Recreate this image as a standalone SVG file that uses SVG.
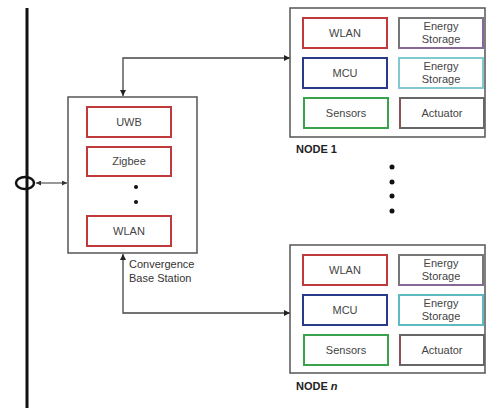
<svg xmlns="http://www.w3.org/2000/svg" width="487" height="411" viewBox="0 0 487 411">
<defs>
<marker id="ah" viewBox="0 0 10 10" refX="10" refY="5" markerWidth="6" markerHeight="6" orient="auto-start-reverse" markerUnits="userSpaceOnUse">
<path d="M0,0 L10,5 L0,10 z" fill="#222"/>
</marker>
<marker id="ahs" viewBox="0 0 10 10" refX="10" refY="5" markerWidth="5" markerHeight="5" orient="auto-start-reverse" markerUnits="userSpaceOnUse">
<path d="M0,0 L10,5 L0,10 z" fill="#333"/>
</marker>
</defs>
<style>
.outer{fill:#fff;stroke:#555;stroke-width:1.5}
.in{fill:#fff;stroke-width:2}
.t{font-family:"Liberation Sans",Arial,sans-serif;font-size:11px;fill:#444;text-anchor:middle}
.lbl{font-family:"Liberation Sans",Arial,sans-serif;font-size:11px;fill:#333}
.nl{font-family:"Liberation Sans",Arial,sans-serif;font-size:11px;font-weight:bold;fill:#222}
.red{stroke:#c0393b}
.blue{stroke:#2a3a8a}
.green{stroke:#3aa24a}
.grey{stroke:#666}
.con{fill:none;stroke:#444;stroke-width:1.3}
.dot{fill:#111}
</style>
<rect width="487" height="411" fill="#fff"/>
<g id="bus">
<line x1="27" y1="8" x2="27" y2="408" stroke="#111" stroke-width="3"/>
<ellipse cx="25" cy="183" rx="9" ry="6" fill="none" stroke="#111" stroke-width="2.5"/>
</g>
<g id="connectors">
<line x1="36" y1="183" x2="67" y2="183" stroke="#333" stroke-width="1" marker-start="url(#ahs)" marker-end="url(#ahs)"/>
<polyline class="con" points="290,58 123,58 123,96" marker-start="url(#ah)" marker-end="url(#ah)"/>
<polyline class="con" points="290,313 123,313 123,254" marker-start="url(#ah)" marker-end="url(#ah)"/>
</g>
<g id="base-station">
<rect class="outer" x="68" y="97" width="129" height="156"/>
<rect class="in red" x="87" y="107" width="84" height="30"/>
<text class="t" x="129" y="126">UWB</text>
<rect class="in red" x="87" y="147" width="84" height="29"/>
<text class="t" x="129" y="165">Zigbee</text>
<circle class="dot" cx="136" cy="187" r="2"/>
<circle class="dot" cx="136" cy="202" r="2"/>
<rect class="in red" x="87" y="216" width="84" height="30"/>
<text class="t" x="129" y="235">WLAN</text>
<text class="lbl" x="129" y="268">Convergence</text>
<text class="lbl" x="129" y="282">Base Station</text>
</g>
<g id="node1">
<rect class="outer" x="290" y="8" width="195" height="129"/>
<rect class="in red" x="303" y="18" width="84" height="30"/>
<text class="t" x="345" y="37">WLAN</text>
<rect class="in grey" x="399" y="18" width="84" height="30" style="stroke:#777"/>
<path d="M483,18 V48 H399" fill="none" stroke="#9a5ab8" stroke-width="1"/>
<text class="t" x="441" y="30">Energy</text>
<text class="t" x="441" y="43">Storage</text>
<rect class="in blue" x="303" y="58" width="84" height="30"/>
<text class="t" x="345" y="77">MCU</text>
<rect class="in" x="399" y="58" width="84" height="30" style="stroke:#7fc9cf"/>
<text class="t" x="441" y="70">Energy</text>
<text class="t" x="441" y="83">Storage</text>
<rect class="in green" x="304" y="98" width="84" height="30"/>
<text class="t" x="346" y="117">Sensors</text>
<rect class="in grey" x="400" y="98" width="84" height="30"/>
<line x1="400" y1="99" x2="400" y2="127" stroke="#b04040" stroke-width="1"/>
<text class="t" x="442" y="117">Actuator</text>
<text class="nl" x="296" y="153">NODE 1</text>
</g>
<g id="ellipsis">
<circle class="dot" cx="392" cy="167" r="2.5"/>
<circle class="dot" cx="392" cy="182" r="2.5"/>
<circle class="dot" cx="392" cy="196" r="2.5"/>
<circle class="dot" cx="392" cy="211" r="2.5"/>
</g>
<g id="noden">
<rect class="outer" x="290" y="245" width="195" height="128"/>
<rect class="in red" x="303" y="255" width="84" height="30"/>
<text class="t" x="345" y="274">WLAN</text>
<rect class="in grey" x="399" y="255" width="84" height="30" style="stroke:#777"/>
<path d="M399,285 H483" fill="none" stroke="#9a5ab8" stroke-width="1"/>
<text class="t" x="441" y="267">Energy</text>
<text class="t" x="441" y="280">Storage</text>
<rect class="in blue" x="303" y="295" width="84" height="30"/>
<text class="t" x="345" y="314">MCU</text>
<rect class="in" x="399" y="295" width="84" height="30" style="stroke:#5fb9c0"/>
<text class="t" x="441" y="307">Energy</text>
<text class="t" x="441" y="320">Storage</text>
<rect class="in green" x="304" y="335" width="84" height="30"/>
<text class="t" x="346" y="354">Sensors</text>
<rect class="in grey" x="400" y="335" width="84" height="30"/>
<line x1="400" y1="336" x2="400" y2="364" stroke="#b04040" stroke-width="1"/>
<text class="t" x="442" y="354">Actuator</text>
<text class="nl" x="296" y="390">NODE <tspan font-style="italic">n</tspan></text>
</g>
</svg>
